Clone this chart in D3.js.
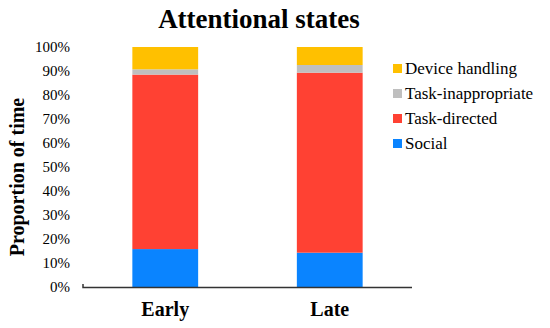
<!DOCTYPE html>
<html>
<head>
<meta charset="utf-8">
<script src="https://cdn.jsdelivr.net/npm/d3@7"></script>
<style>
  body { margin: 0; background: #fff; }
</style>
</head>
<body>
<div id="chart"></div>
<script>
// Data
const periods = ['Early', 'Late'];
const seriesNames = ['Social', 'Task-directed', 'Task-inappropriate', 'Device handling'];
const social = [15.8, 14.3];
const taskDirected = [72.7, 75.0];
const taskInappropriate = [2.2, 3.2];
const deviceHandling = [9.3, 7.5];
const yTicks = [0, 10, 20, 30, 40, 50, 60, 70, 80, 90, 100];
const colors = ['#0A84FF', '#FF4133', '#BFBFBF', '#FFC000'];

const width = 550, height = 328;
const plotLeft = 83, plotRight = 412, plotTop = 47, plotBottom = 287;
const serif = "font-family:'Liberation Serif','Times New Roman',serif;";

const svg = d3.select('#chart')
    .append('svg')
    .attr('width', width)
    .attr('height', height);

// Build rows for stacking
const rows = periods.map((p, i) => ({
    period: p,
    'Social': social[i],
    'Task-directed': taskDirected[i],
    'Task-inappropriate': taskInappropriate[i],
    'Device handling': deviceHandling[i]
}));
const stacked = d3.stack().keys(seriesNames)(rows);

const x = d3.scaleBand().domain(periods).range([plotLeft, plotRight]).paddingInner(0.6).paddingOuter(0.3);
const y = d3.scaleLinear().domain([0, 100]).range([plotBottom, plotTop]);
const color = d3.scaleOrdinal().domain(seriesNames).range(colors);

// Bars
svg.append('g')
    .selectAll('g')
    .data(stacked)
    .join('g')
    .attr('fill', d => color(d.key))
    .selectAll('rect')
    .data(d => d)
    .join('rect')
    .attr('x', d => x(d.data.period))
    .attr('y', d => y(d[1]))
    .attr('width', x.bandwidth())
    .attr('height', d => y(d[0]) - y(d[1]));

// Y axis (labels only)
const yAxis = svg.append('g')
    .attr('transform', `translate(${plotLeft},0)`)
    .call(d3.axisLeft(y).tickValues(yTicks).tickFormat(d => d + '%').tickSize(0).tickPadding(13));
yAxis.select('.domain').remove();
yAxis.selectAll('text')
    .attr('style', serif + 'font-size:15px;')
    .attr('fill', '#000');

// X axis
const xAxis = svg.append('g')
    .attr('transform', `translate(0,${plotBottom})`)
    .call(d3.axisBottom(x).tickSize(0).tickPadding(15));
xAxis.select('.domain')
    .attr('d', `M${plotLeft},-3V0.5H${plotRight}`)
    .attr('stroke', '#333')
    .attr('stroke-width', 1.5);
xAxis.selectAll('text')
    .attr('style', serif + 'font-size:20px;font-weight:bold;')
    .attr('fill', '#000');

// Title
svg.append('text')
    .attr('x', 259)
    .attr('y', 28)
    .attr('text-anchor', 'middle')
    .attr('style', serif + 'font-size:27px;font-weight:bold;')
    .text('Attentional states');

// Y label
svg.append('text')
    .attr('transform', `translate(24,${(plotTop + plotBottom) / 2 + 10}) rotate(-90)`)
    .attr('text-anchor', 'middle')
    .attr('style', serif + 'font-size:20px;font-weight:bold;')
    .text('Proportion of time');

// Legend (reverse order, top to bottom)
const legend = svg.append('g')
    .selectAll('g')
    .data(seriesNames.slice().reverse())
    .join('g')
    .attr('transform', (d, i) => `translate(393,${68 + i * 25})`);
legend.append('rect')
    .attr('x', 0)
    .attr('y', -4)
    .attr('width', 9)
    .attr('height', 9)
    .attr('fill', d => color(d));
legend.append('text')
    .attr('x', 12)
    .attr('y', 6)
    .attr('style', serif + 'font-size:17px;')
    .text(d => d);
</script>
</body>
</html>
